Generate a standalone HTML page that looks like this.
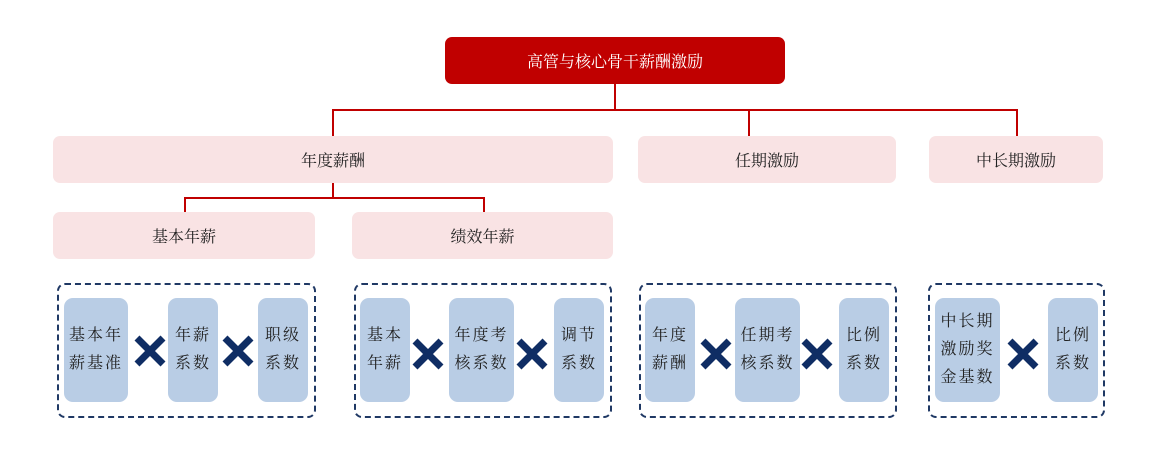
<!DOCTYPE html><html><head><meta charset="utf-8"><style>
body{margin:0;width:1164px;height:464px;background:#fff;position:relative;overflow:hidden;font-family:"Liberation Serif","Noto Serif CJK SC",serif;}
div{position:absolute;box-sizing:border-box;}
.t{display:flex;align-items:center;justify-content:center;text-align:center;}
.top{background:#c00000;color:#fff;border-radius:7px;font-size:16px;}
.p{background:#f9e3e4;border-radius:7px;font-size:16px;color:#222;}
.l{background:#c00000;}
.g{border:2px dashed #1f3864;border-radius:8px;}
.b{background:#b9cde5;border-radius:9px;font-size:16px;color:#222;line-height:28px;letter-spacing:2px;}
svg{position:absolute;}
</style></head><body>
<div class="top t" style="left:445px;top:37px;width:340px;height:47px">高管与核心骨干薪酬激励</div>
<div class="l" style="left:614px;top:84px;width:2px;height:27px"></div>
<div class="l" style="left:332px;top:109px;width:686px;height:2px"></div>
<div class="l" style="left:332px;top:109px;width:2px;height:27px"></div>
<div class="l" style="left:748px;top:109px;width:2px;height:27px"></div>
<div class="l" style="left:1016px;top:109px;width:2px;height:27px"></div>
<div class="p t" style="left:53px;top:136px;width:560px;height:47px">年度薪酬</div>
<div class="p t" style="left:638px;top:136px;width:258px;height:47px">任期激励</div>
<div class="p t" style="left:929px;top:136px;width:174px;height:47px">中长期激励</div>
<div class="l" style="left:332px;top:183px;width:2px;height:16px"></div>
<div class="l" style="left:184px;top:197px;width:301px;height:2px"></div>
<div class="l" style="left:184px;top:197px;width:2px;height:15px"></div>
<div class="l" style="left:483px;top:197px;width:2px;height:15px"></div>
<div class="p t" style="left:53px;top:212px;width:262px;height:47px">基本年薪</div>
<div class="p t" style="left:352px;top:212px;width:261px;height:47px">绩效年薪</div>

<div class="g" style="left:57px;top:283px;width:259px;height:135px"></div>
<div class="g" style="left:354px;top:283px;width:258px;height:135px"></div>
<div class="g" style="left:639px;top:283px;width:258px;height:135px"></div>
<div class="g" style="left:928px;top:283px;width:177px;height:135px"></div>

<div class="b t" style="left:64px;top:298px;width:64px;height:104px">基本年<br>薪基准</div>
<div class="b t" style="left:168px;top:298px;width:50px;height:104px">年薪<br>系数</div>
<div class="b t" style="left:258px;top:298px;width:50px;height:104px">职级<br>系数</div>
<div class="b t" style="left:360px;top:298px;width:50px;height:104px">基本<br>年薪</div>
<div class="b t" style="left:449px;top:298px;width:65px;height:104px">年度考<br>核系数</div>
<div class="b t" style="left:554px;top:298px;width:50px;height:104px">调节<br>系数</div>
<div class="b t" style="left:645px;top:298px;width:50px;height:104px">年度<br>薪酬</div>
<div class="b t" style="left:735px;top:298px;width:65px;height:104px">任期考<br>核系数</div>
<div class="b t" style="left:839px;top:298px;width:50px;height:104px">比例<br>系数</div>
<div class="b t" style="left:935px;top:298px;width:65px;height:104px">中长期<br>激励奖<br>金基数</div>
<div class="b t" style="left:1048px;top:298px;width:50px;height:104px">比例<br>系数</div>

<svg width="1164" height="464" style="left:0;top:0">
<g stroke="#0f2d64" stroke-width="7">
<path d="M137 338L163 364M163 338L137 364"/>
<path d="M225 338L251 364M251 338L225 364"/>
<path d="M415 341L441 367M441 341L415 367"/>
<path d="M519 341L545 367M545 341L519 367"/>
<path d="M703 341L729 367M729 341L703 367"/>
<path d="M804 341L830 367M830 341L804 367"/>
<path d="M1010 341L1036 367M1036 341L1010 367"/>
</g></svg>
</body></html>
